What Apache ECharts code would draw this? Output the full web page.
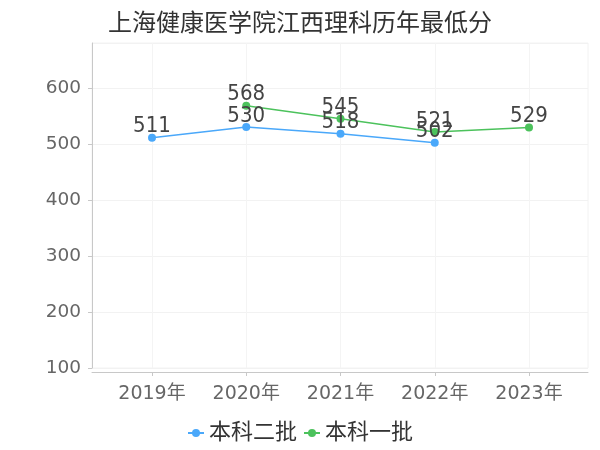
<!DOCTYPE html>
<html>
<head>
<meta charset="utf-8">
<script src="https://cdn.jsdelivr.net/npm/echarts@6/dist/echarts.min.js"></script>
<style>html,body{margin:0;padding:0;background:#fff;}#c{width:600px;height:450px;}</style>
</head>
<body>
<div id="c"></div>
<script>
var titleText = '上海健康医学院江西理科历年最低分';
var years = ['2019年', '2020年', '2021年', '2022年', '2023年'];
var seriesNames = ['本科二批', '本科一批'];
var erPi = [511, 530, 518, 502, null];
var yiPi = [null, 568, 545, 521, 529];
var yMin = 100, yMax = 680, yStep = 100;

var FONT = 'DejaVu Sans, "Noto Sans CJK SC", sans-serif';
var LFONT = '"DejaVu Sans Condensed", "Noto Sans", sans-serif';
var chart = echarts.init(document.getElementById('c'), null, {renderer: 'canvas'});
chart.setOption({
  animation: false,
  backgroundColor: '#fff',
  title: {
    text: titleText, left: 'center', top: 8,
    textStyle: {fontSize: 24, fontWeight: 'normal', color: '#333', fontFamily: FONT}
  },
  legend: {
    data: seriesNames, left: 'center', top: 417, itemGap: 6, itemWidth: 16, itemHeight: 10,
    textStyle: {fontSize: 22, color: '#333', fontFamily: FONT}
  },
  grid: [
    {left: 92, right: 12, top: 43, bottom: 82, show: true, borderColor: '#f2f2f2', borderWidth: 1, backgroundColor: 'transparent'},
    {left: 152, right: 71, top: 43, bottom: 82}
  ],
  xAxis: [
    {gridIndex: 0, type: 'value', min: 0, max: 1, offset: 4,
     axisLine: {show: true, lineStyle: {color: '#c8c8c8'}}, axisTick: {show: false},
     axisLabel: {show: false}, splitLine: {show: false}},
    {gridIndex: 1, type: 'category', data: years, boundaryGap: false, offset: 4,
     axisLine: {show: false}, axisTick: {show: true, length: 4, lineStyle: {color: '#c8c8c8'}},
     axisLabel: {fontSize: 19, color: '#666', margin: 13, fontFamily: FONT},
     splitLine: {show: true, lineStyle: {color: '#f4f4f4'}}}
  ],
  yAxis: [
    {gridIndex: 0, type: 'value', min: yMin, max: yMax, interval: yStep, offset: 3,
     axisLine: {show: true, lineStyle: {color: '#c8c8c8'}},
     axisTick: {show: true, length: 4, lineStyle: {color: '#c8c8c8'}},
     axisLabel: {fontSize: 18.5, color: '#666', margin: 8, fontFamily: FONT, showMaxLabel: false},
     splitLine: {show: true, lineStyle: {color: '#f2f2f2'}}},
    {gridIndex: 1, type: 'value', min: yMin, max: yMax, show: false, splitLine: {show: false}}
  ],
  series: [
    {name: seriesNames[0], type: 'line', xAxisIndex: 1, yAxisIndex: 1, data: erPi,
     symbol: 'circle', symbolSize: 8, color: '#4aa8fa', lineStyle: {width: 1.5},
     label: {show: true, position: 'top', distance: 0, offset: [0, 4], fontSize: 22, color: '#444', fontFamily: LFONT}},
    {name: seriesNames[1], type: 'line', xAxisIndex: 1, yAxisIndex: 1, data: yiPi,
     symbol: 'circle', symbolSize: 8, color: '#4cc25c', lineStyle: {width: 1.5},
     label: {show: true, position: 'top', distance: 0, offset: [0, 4], fontSize: 22, color: '#444', fontFamily: LFONT}}
  ]
});
</script>
</body>
</html>
